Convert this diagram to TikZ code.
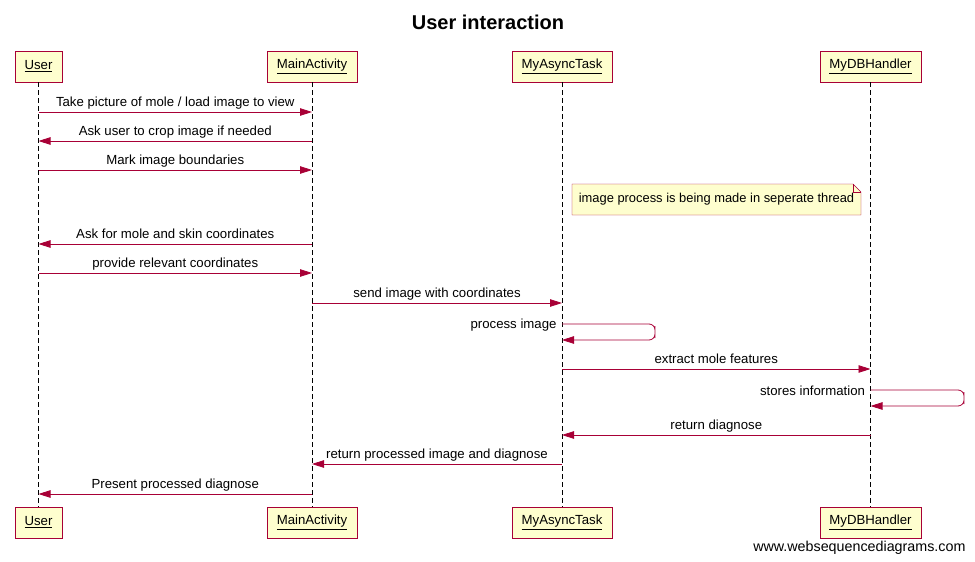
\documentclass[tikz,border=0pt]{standalone}
\usepackage{fontspec}
\setmainfont{Liberation Sans}
\usetikzlibrary{arrows.meta, positioning, calc}

\definecolor{wsdred}{HTML}{A80036}
\definecolor{wsdfill}{HTML}{FEFECE}

\begin{document}
\begin{tikzpicture}[x = 1pt, y = -1pt, > = {Triangle[length = 12pt, width = 7.5pt]},
	every node/.style = {text = black, font = \fontsize{13.2}{15}\selectfont},
	actor/.style = {draw = wsdred, fill = wsdfill, minimum height = 31pt, inner xsep = 9.5pt},
	msg/.style = {wsdred, line width = 0.8pt, ->},
	lbl/.style = {midway, anchor = base, yshift = 6pt},
	life/.style = {dashed, dash pattern = on 5pt off 3pt}]

	% Frame

	\useasboundingbox (0, 0) rectangle (975, 562);
	\node [font = \fontsize{20}{22}\selectfont\bfseries] (title) at (488, 22) {User interaction};

	% Participants, top and bottom

	\foreach \n/\x/\t in {user/38.5/User, main/312/MainActivity, task/562/MyAsyncTask, db/870.5/MyDBHandler} {
		\node [actor] (\n-top) at (\x, 66.5) {\underline{\t}};
		\node [actor] (\n-bot) at (\x, 522.5) {\underline{\t}};
		\draw [life] (\n-top) -- (\n-bot);
	}

	% Message rows

	\foreach \r/\y in {1/112, 2/141, 3/170, 5/244, 6/273, 7/303, 8/324, 9/369, 10/390, 11/435, 12/464, 13/494}
		\coordinate (r\r) at (0, \y);

	\draw [msg] (user-top |- r1) -- (main-top |- r1) node [lbl] {Take picture of mole / load image to view};
	\draw [msg] (main-top |- r2) -- (user-top |- r2) node [lbl] {Ask user to crop image if needed};
	\draw [msg] (user-top |- r3) -- (main-top |- r3) node [lbl] {Mark image boundaries};

	% Note

	\coordinate (note-nw) at (572, 184);
	\coordinate (note-se) at (861, 215);
	\draw [wsdred, fill = wsdfill] (note-nw) -- ([xshift = -8pt] note-nw -| note-se) -- ([yshift = -8pt] note-nw -| note-se)
		-- (note-se) -- (note-se -| note-nw) -- cycle;
	\draw [wsdred] ([xshift = -8pt] note-nw -| note-se) |- ([yshift = -8pt] note-nw -| note-se);
	\node [font = \fontsize{12.9}{15}\selectfont] (note) at ($(note-nw)!0.5!(note-se)$) {image process is being made in seperate thread};

	\draw [msg] (main-top |- r5) -- (user-top |- r5) node [lbl] {Ask for mole and skin coordinates};
	\draw [msg] (user-top |- r6) -- (main-top |- r6) node [lbl] {provide relevant coordinates};
	\draw [msg] (main-top |- r7) -- (task-top |- r7) node [lbl] {send image with coordinates};

	% Self message of the task

	\coordinate (turn1) at (655, 332);
	\node [anchor = east] (self1) at ([xshift = -2pt, yshift = -1pt] task-top |- r8) {process image};
	\draw [msg, rounded corners = 6pt] (task-top |- r8) -| (turn1) |- ([yshift = -16pt] task-top |- r8);

	\draw [msg] (task-top |- r9) -- (db-top |- r9) node [lbl] {extract mole features};

	% Self message of the handler

	\coordinate (turn2) at (964, 398);
	\node [anchor = east] (self2) at ([xshift = -2pt, yshift = -1pt] db-top |- r10) {stores information};
	\draw [msg, rounded corners = 6pt] (db-top |- r10) -| (turn2) |- ([yshift = -16pt] db-top |- r10);

	\draw [msg] (db-top |- r11) -- (task-top |- r11) node [lbl] {return diagnose};
	\draw [msg] (task-top |- r12) -- (main-top |- r12) node [lbl] {return processed image and diagnose};
	\draw [msg] (main-top |- r13) -- (user-top |- r13) node [lbl] {Present processed diagnose};

	\node [anchor = east, font = \fontsize{14.3}{16}\selectfont] (site) at (969, 548) {www.websequencediagrams.com};

\end{tikzpicture}
\end{document}
